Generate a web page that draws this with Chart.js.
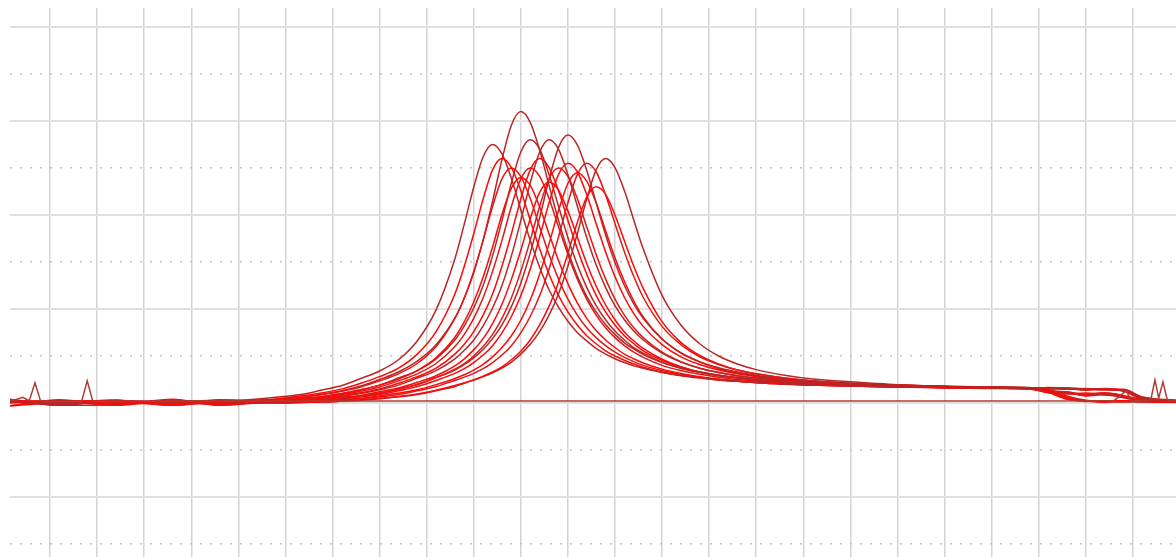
<!DOCTYPE html>
<html>
<head>
<meta charset="utf-8">
<script src="https://cdn.jsdelivr.net/npm/chart.js@4/dist/chart.umd.min.js"></script>
<style>
html,body{margin:0;padding:0;background:#fff}
#wrap{width:1176px;height:557px;position:relative}
</style>
</head>
<body>
<div id="wrap"><canvas id="c"></canvas></div>
<script>
// sample positions shared by all traces (x in grid units, one grid cell = 10)
const xs = [1.5, 12, 24, 36, 46, 60, 64, 68, 72, 76, 80, 84, 88, 92, 96, 98, 100, 102, 104, 106, 108, 110, 112, 114, 116, 118, 120, 122, 124, 126, 128, 130, 132, 134, 136, 140, 144, 148, 152, 156, 160, 166, 172, 180, 190, 200, 210, 218, 222, 226, 230, 234, 238, 242, 249.2]

const trace1 = [0.3,0.1,0.4,0.2,0.3, 1.4,1.9,2.8,3.7,5.2,6.8,9.2,13.2,19.8, 30.7,38.1,45.9,52.4,55,53.0,47.8,41.1,34.6,28.9,24.1,20.4,17.4,15.0,13.2,11.6,10.4,9.4,8.6,7.9,7.4, 6.5,5.8,5.3,4.9,4.6,4.3, 4.0,3.8,3.6,3.4,3.3,3.2,3.1, 3.1,3.0,2.8,3.0,2.6,1.0,0.4]
const trace2 = [-0.6,0.3,-0.5,0.5,-0.4, 1.1,1.6,2.2,3.0,4.2,5.6,7.4,10.4,15.2, 23.2,29.1,36.0,43.4,49.6,52,50.1,45.2,38.9,32.8,27.4,22.9,19.4,16.6,14.3,12.6,11.1,10.0,9.1,8.3,7.6, 6.6,5.9,5.4,4.9,4.6,4.3, 4.0,3.8,3.6,3.4,3.3,3.2,3.1, 2.6,1.2,0.4,0.3,0.5,0.3,0.2]
const trace3 = [0.5,-0.1,0.2,0.0,0.4, 0.9,1.3,1.8,2.5,3.4,4.7,6.2,8.4,12.0, 18.0,22.4,28.0,34.6,41.8,47.7,50,48.2,43.5,37.5,31.6,26.4,22.1,18.7,16.0,13.9,12.2,10.8,9.7,8.8,8.0, 6.9,6.1,5.5,5.0,4.7,4.4, 4.1,3.8,3.6,3.4,3.3,3.2,3.0, 2.4,2.0,1.8,2.2,1.5,0.6,0.3]
const trace4 = [0.7,-0.5,-0.3,0.6,-0.4, 0.9,1.3,1.9,2.6,3.6,5.0,6.6,8.9,12.4, 18.1,22.3,27.7,34.7,42.9,51.8,59.1,62,59.7,53.8,46.3,38.9,32.4,27.0,22.7,19.4,16.7,14.6,12.8,11.5,10.3, 8.6,7.4,6.6,5.9,5.4,5.0, 4.5,4.2,3.9,3.6,3.4,3.3,3.2, 3.2,3.1,3.0,2.9,2.8,1.2,0.5]
const trace5 = [0.4,0.2,0.6,-0.2,0.3, 0.7,1.0,1.4,2.0,2.8,3.8,5.1,6.9,9.6, 14.0,17.3,21.5,26.8,33.2,40.1,45.7,48,46.3,41.7,36.0,30.3,25.4,21.3,18.0,15.4,13.4,11.8,10.4,9.4,8.5, 7.2,6.3,5.6,5.1,4.7,4.4, 4.1,3.8,3.6,3.4,3.2,3.1,3.0, 2.2,0.9,0.5,0.2,0.4,0.6,0.3]
const trace6 = [0.0,0.5,0.2,0.4,-0.1, 0.6,1.0,1.4,2.0,2.8,3.8,5.3,6.9,9.4, 13.4,16.4,20.2,25.0,31.3,38.8,46.8,53.4,56,54.0,48.6,41.9,35.2,29.4,24.6,20.7,17.7,15.3,13.4,11.8,10.6, 8.7,7.4,6.5,5.8,5.3,4.9, 4.5,4.1,3.8,3.5,3.4,3.2,3.1, 2.5,2.2,1.6,1.9,1.2,0.5,0.3]
const trace7 = [0.6,0.2,0.0,0.3,0.5, 0.5,0.7,1.1,1.6,2.2,3.0,4.2,5.6,7.4, 10.4,12.5,15.2,18.7,23.2,29.1,36.0,43.4,49.6,52,50.1,45.2,38.9,32.8,27.4,22.9,19.4,16.6,14.3,12.6,11.1, 9.1,7.6,6.6,5.9,5.4,4.9, 4.5,4.1,3.8,3.5,3.3,3.2,3.1, 3.3,3.2,2.9,3.1,2.7,0.8,0.4]
const trace8 = [0.2,-0.2,0.4,0.1,0.2, 0.4,0.6,1.0,1.4,2.0,2.8,3.8,5.3,6.9, 9.4,11.2,13.4,16.4,20.2,25.0,31.3,38.8,46.8,53.4,56,54.0,48.6,41.9,35.2,29.4,24.6,20.7,17.7,15.3,13.4, 10.6,8.7,7.4,6.5,5.8,5.3, 4.7,4.4,4.0,3.7,3.4,3.3,3.1, 2.8,1.5,0.6,0.4,0.2,0.4,0.3]
const trace9 = [0.3,0.5,0.1,-0.3,0.4, 0.3,0.5,0.8,1.2,1.6,2.4,3.2,4.4,5.8, 7.9,9.4,11.3,13.7,16.9,21.0,26.3,32.5,39.2,44.8,47,45.3,40.9,35.3,29.7,24.9,20.9,17.7,15.1,13.2,11.6, 9.3,7.7,6.6,5.9,5.3,4.9, 4.4,4.1,3.8,3.5,3.3,3.2,3.0, 2.3,1.9,2.1,1.7,1.4,0.7,0.4]
const trace10 = [-0.6,0.1,0.6,-0.5,0.3, 0.3,0.5,0.7,1.1,1.5,2.1,2.9,4.0,5.4, 7.2,8.4,10.0,12.0,14.6,18.0,22.4,28.0,34.6,41.8,47.7,50,48.2,43.5,37.5,31.6,26.4,22.1,18.7,16.0,13.9, 10.8,8.8,7.4,6.5,5.8,5.3, 4.7,4.3,3.9,3.6,3.4,3.3,3.1, 3.0,3.1,2.7,2.9,2.5,0.9,0.3]
const trace11 = [0.2,0.4,0.0,0.2,0.6, 0.2,0.4,0.6,1.0,1.4,2.0,2.9,3.9,5.4, 7.0,8.2,9.6,11.4,13.7,16.6,20.5,25.5,31.9,39.4,47.6,54.3,57,54.9,49.5,42.6,35.8,29.9,25.0,21.1,18.0, 13.6,10.7,8.8,7.5,6.6,5.9, 5.1,4.7,4.2,3.8,3.5,3.4,3.2, 2.5,1.0,0.3,0.5,0.3,0.2,0.4]
const trace12 = [0.5,0.0,0.3,0.1,-0.2, 0.2,0.3,0.5,0.7,1.0,1.5,2.1,2.8,3.9, 5.2,6.0,7.0,8.2,9.8,11.8,14.3,17.6,21.9,27.4,33.9,40.9,46.7,49,47.2,42.6,36.7,30.9,25.9,21.7,18.3, 13.6,10.6,8.7,7.3,6.4,5.7, 5.0,4.5,4.0,3.7,3.5,3.3,3.2, 2.6,2.1,1.7,2.0,1.3,0.5,0.2]
const trace13 = [0.1,0.3,0.5,0.2,0.3, 0.1,0.2,0.4,0.6,0.9,1.3,1.8,2.6,3.5, 4.8,5.5,6.3,7.3,8.6,10.2,12.2,14.9,18.4,22.8,28.5,35.3,42.6,48.6,51,49.2,44.3,38.2,32.2,26.9,22.5, 16.3,12.4,9.8,8.2,7.0,6.2, 5.3,4.7,4.2,3.8,3.5,3.3,3.2, 3.2,2.9,3.1,2.8,2.6,1.1,0.5]
const trace14 = [0.4,0.1,-0.1,0.4,0.2, 0.0,0.2,0.2,0.4,0.7,1.0,1.4,1.9,2.7, 3.7,4.3,4.9,5.7,6.6,7.7,9.2,11.0,13.4,16.6,20.6,25.7,31.8,38.4,43.8,46,44.4,40.0,34.5,29.1,24.4, 17.3,12.9,10.1,8.3,7.0,6.2, 5.3,4.7,4.1,3.7,3.5,3.3,3.2, 2.4,0.8,0.4,0.2,0.5,0.3,0.2]
const trace15 = [0.6,-0.5,0.5,-0.4,0.1, 0.0,0.1,0.2,0.4,0.6,0.9,1.3,1.8,2.6, 3.5,4.2,4.9,5.6,6.4,7.4,8.7,10.4,12.5,15.2,18.7,23.2,29.1,36.0,43.4,49.6,52,50.1,45.2,38.9,32.8, 22.9,16.6,12.6,10.0,8.3,7.1, 5.9,5.1,4.5,3.9,3.6,3.4,3.3, 2.7,2.3,1.9,2.1,1.6,0.7,0.3]
const trace16 = [-0.6,0.7,-0.4,0.8,-0.5, 0.6,0.9,1.3,1.8,2.5,3.4,4.7,6.2,8.4, 12.0,14.6,18.0,22.4,28.0,34.6,41.8,47.7,50,48.2,43.5,37.5,31.6,26.4,22.1,18.7,16.0,13.9,12.2,10.8,9.7, 8.0,6.9,6.1,5.5,5.0,4.7, 4.3,4.0,3.7,3.5,3.3,3.2,3.1, 3.1,3.2,3.0,2.8,2.9,1.3,0.6]
const trace17 = [0.8,-0.4,0.6,-0.5,0.7, 0.2,0.4,0.6,0.9,1.3,1.8,2.6,3.5,4.8, 6.3,7.3,8.6,10.2,12.2,14.9,18.4,22.8,28.5,35.3,42.6,48.6,51,49.2,44.3,38.2,32.2,26.9,22.5,19.0,16.3, 12.4,9.8,8.2,7.0,6.2,5.6, 4.9,4.4,4.0,3.7,3.4,3.3,3.2, 2.2,2.4,1.5,1.8,1.1,0.4,0.2]

// flat reference trace with the small spikes at both ends
const flatX = [1.5, 4.2, 5.6, 6.8, 8.0, 10, 16.7, 17.9, 19.1, 40, 100, 160, 220, 236, 238.6, 239.6, 241, 243.8, 244.7, 245.5, 246.4, 247.3, 249.2]
const flatY = [0.3, 1.2, 0.5, 4.3, 0.4, 0.3, 0.3, 4.7, 0.3, 0.4, 0.4, 0.4, 0.4, 0.5, 2.6, 0.6, 0.5, 0.6, 4.9, 1.0, 4.5, 0.7, 0.4]

const xTicks = [10,20,30,40,50,60,70,80,90,100,110,120,130,140,150,160,170,180,190,200,210,220,230,240]
const yTicks = [-30,-20,-10,0,10,20,30,40,50,60,70,80]

const traces = [trace1,trace2,trace3,trace4,trace5,trace6,trace7,trace8,trace9,trace10,trace11,trace12,trace13,trace14,trace15,trace16,trace17]
const DARK = 'rgb(185,38,38)', BRIGHT = 'rgb(255,8,8)', MID = 'rgb(228,22,22)'
const traceColors = [DARK,BRIGHT,MID,DARK,BRIGHT,DARK,BRIGHT,DARK,BRIGHT,MID,DARK,BRIGHT,MID,BRIGHT,DARK,MID,BRIGHT]

const datasets = traces.map((t,i)=>({
  data: xs.map((x,j)=>({x, y:t[j]})),
  borderColor: traceColors[i], borderWidth: 1.5, pointRadius: 0,
  cubicInterpolationMode: 'monotone', fill: false
}))
datasets.unshift({
  data: flatX.map((x,j)=>({x, y:flatY[j]})),
  borderColor: 'rgb(175,60,50)', borderWidth: 1.5, pointRadius: 0, tension: 0, fill: false
})

const isDotted = v => Math.abs(Math.round(v/10)) % 2 === 1

new Chart(document.getElementById('c'), {
  type: 'line',
  data: { datasets },
  options: {
    responsive: true, maintainAspectRatio: false, animation: false, events: [],
    layout: { padding: { left: 10, top: 8, right: 0, bottom: 0 } },
    plugins: { legend: { display: false }, tooltip: { enabled: false } },
    scales: {
      x: {
        type: 'linear', min: 1.5, max: 249.17,
        ticks: { display: false },
        afterBuildTicks: s => { s.ticks = xTicks.map(v=>({value:v})) },
        afterFit: s => { s.height = 0 },
        grid: { color: '#d3d3d3', lineWidth: 1.5, drawTicks: false },
        border: { display: false }
      },
      y: {
        type: 'linear', min: -32.77, max: 84.04,
        ticks: { display: false },
        afterBuildTicks: s => { s.ticks = yTicks.map(v=>({value:v})) },
        afterFit: s => { s.width = 0 },
        grid: {
          drawTicks: false,
          color: ctx => isDotted(ctx.tick.value) ? '#c4c4c4' : '#e0e0e0',
          lineWidth: ctx => isDotted(ctx.tick.value) ? 1.5 : 2
        },
        border: { display: false, dash: ctx => isDotted(ctx.tick.value) ? [2,8] : [] }
      }
    }
  }
})
</script>
</body>
</html>
